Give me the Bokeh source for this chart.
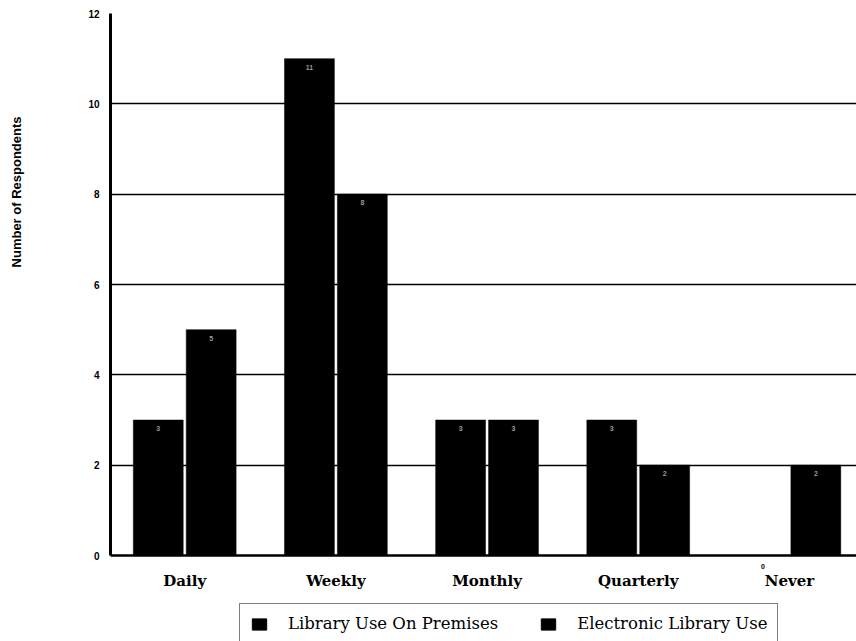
from bokeh.plotting import figure
from bokeh.layouts import column
from bokeh.models import (ColumnDataSource, Range1d, FixedTicker, Legend,
                          LegendItem, Title, LinearAxis)
from bokeh.transform import dodge
from bokeh.core.properties import value
from bokeh.embed import file_html
from bokeh.resources import INLINE

categories = ["Daily", "Weekly", "Monthly", "Quarterly", "Never"]
premises = [3, 11, 3, 3, 0]
electronic = [5, 8, 3, 2, 2]
series_names = ["Library Use On Premises", "Electronic Library Use"]
y_ticks = [0, 2, 4, 6, 8, 10, 12]
y_title = "Number of Respondents"

bw = 0.33
off = 0.175

pos = list(range(len(categories)))
src = ColumnDataSource(dict(
    x=pos,
    premises=premises,
    electronic=electronic,
    plab=[str(v) if v else "" for v in premises],
    elab=[str(v) if v else "" for v in electronic],
))

p = figure(width=856, height=596,
           x_range=Range1d(-0.491, 4.444), y_range=Range1d(0, 12),
           output_backend="svg", toolbar_location=None,
           min_border_left=110, min_border_top=13, min_border_right=0,
           min_border_bottom=41)
p.outline_line_color = None
p.background_fill_color = "white"
p.border_fill_color = "white"

p.vbar(x=dodge("x", -off), top="premises", bottom=0, width=bw, source=src,
       fill_color="black", line_color="black", line_width=0.5)
p.vbar(x=dodge("x", off), top="electronic", bottom=0, width=bw, source=src,
       fill_color="black", line_color="black", line_width=0.5)

for col, ycol, d in (("plab", "premises", -off), ("elab", "electronic", off)):
    p.text(x=dodge("x", d), y=ycol, text=col, source=src,
           text_color="#9a9a9a", text_font=value("Liberation Sans"), text_font_size="7px",
           text_font_style="bold",
           text_align="center", text_baseline="top", y_offset=6)

# grid
p.xgrid.grid_line_color = None
p.ygrid.ticker = FixedTicker(ticks=y_ticks)
p.ygrid.grid_line_color = "black"
p.ygrid.grid_line_width = 1.5

# y axis
p.yaxis.ticker = FixedTicker(ticks=y_ticks)
p.yaxis.major_label_text_font = "Liberation Sans"
p.yaxis.major_label_text_font_style = "bold"
p.yaxis.major_label_text_font_size = "10px"
p.yaxis.major_label_text_color = "black"
p.yaxis.major_label_standoff = 5
p.yaxis.major_tick_line_color = None
p.yaxis.minor_tick_line_color = None
p.yaxis.axis_line_color = "black"
p.yaxis.axis_line_width = 3

spacer = Title(text=" ", standoff=36, text_font="Liberation Sans",
               text_font_style="bold", text_font_size="13px")
p.add_layout(spacer, "left")
ytitle = Title(text=y_title, align="right", vertical_align="top", offset=103,
               standoff=14, text_font="Liberation Sans", text_font_style="bold",
               text_font_size="13px", text_color="black")
p.add_layout(ytitle, "left")

# x axes: value labels for zero bars (just under the base line), then categories
zero_ticks = ([i - off for i, v in zip(pos, premises) if v == 0] +
              [i + off for i, v in zip(pos, electronic) if v == 0])
zero_labels = ([str(v) for v in premises if v == 0] +
               [str(v) for v in electronic if v == 0])
zero_axis = LinearAxis(ticker=FixedTicker(ticks=zero_ticks),
                       major_label_overrides=dict(zip(zero_ticks, zero_labels)),
                       major_label_text_font="Liberation Sans",
                       major_label_text_font_style="bold",
                       major_label_text_font_size="7px",
                       major_label_text_color="black",
                       major_label_standoff=8,
                       major_tick_out=0, major_tick_in=0,
                       major_tick_line_color=None, minor_tick_line_color=None,
                       axis_line_color="black", axis_line_width=2.5)

cat_axis = p.xaxis[0]
cat_axis.ticker = FixedTicker(ticks=pos)
cat_axis.major_label_overrides = {i: c for i, c in zip(pos, categories)}
cat_axis.major_label_text_font = "DejaVu Serif"
cat_axis.major_label_text_font_style = "bold"
cat_axis.major_label_text_font_size = "15px"
cat_axis.major_label_text_color = "black"
cat_axis.major_label_standoff = 0
cat_axis.major_tick_out = 0
cat_axis.major_tick_in = 0
cat_axis.major_tick_line_color = None
cat_axis.minor_tick_line_color = None
cat_axis.axis_line_color = None
p.below = [zero_axis, cat_axis]

# legend strip below the chart
lf = figure(width=856, height=45, x_range=Range1d(0, 1), y_range=Range1d(0, 1),
            output_backend="svg", toolbar_location=None, min_border=0,
            min_border_left=110)
lf.axis.visible = False
lf.grid.grid_line_color = None
lf.outline_line_color = None
lf.background_fill_color = "white"
lf.border_fill_color = "white"
l1 = lf.vbar(x=[-1], top=[0], width=0.1, fill_color="black", line_color="black")
l2 = lf.vbar(x=[-1], top=[0], width=0.1, fill_color="black", line_color="black")
legend = Legend(
    items=[LegendItem(label=series_names[0], renderers=[l1]),
           LegendItem(label=series_names[1], renderers=[l2])],
    orientation="horizontal", location=(129, -3),
    border_line_color="black", border_line_width=1.2,
    background_fill_color="white", background_fill_alpha=1,
    label_text_font="DejaVu Serif", label_text_font_size="16.5px",
    label_text_color="black",
    glyph_width=18, glyph_height=14, label_standoff=20, spacing=41,
    padding=10, margin=0,
)
lf.add_layout(legend, "center")

layout = column(p, lf, spacing=0)
open("out.html", "w").write(file_html(layout, INLINE))
